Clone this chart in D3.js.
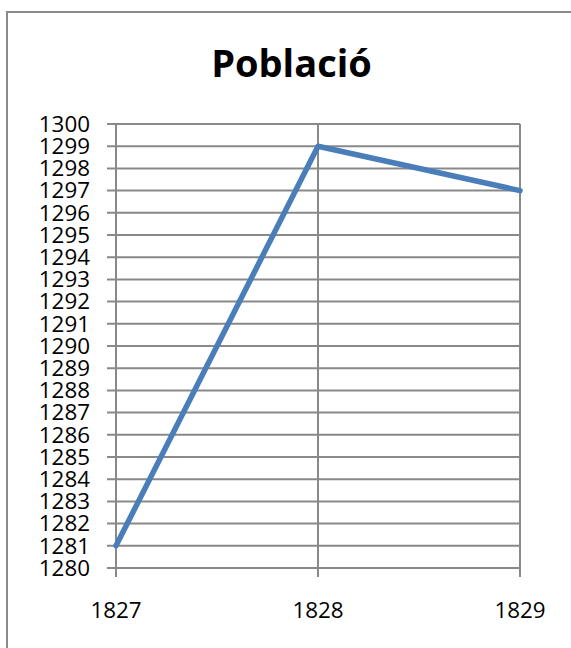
<!DOCTYPE html>
<html><head><meta charset="utf-8">
<script src="https://cdn.jsdelivr.net/npm/d3@7"></script>
<style>body{margin:0;background:#fff}svg{display:block}</style>
</head><body>
<script>
const title = "Població";
const years = ["1827", "1828", "1829"];
const population = [1281, 1299, 1297];
const yTicks = d3.range(1280, 1301, 1);

const W = 571, H = 648;
const svg = d3.select("body").append("svg").attr("width", W).attr("height", H);
const font = "'Open Sans', sans-serif";
const grid = "#898989";

// outer frame (extends beyond right/bottom)
svg.append("rect").attr("x", 7).attr("y", 12).attr("width", 600).attr("height", 700)
  .attr("fill", "none").attr("stroke", grid).attr("stroke-width", 2);

const x = d3.scalePoint().domain(years).range([116, 520]);
const y = d3.scaleLinear().domain([1280, 1300]).range([568, 124]);

// horizontal gridlines
svg.append("g").selectAll("line").data(yTicks).join("line")
  .attr("x1", 107).attr("x2", 520).attr("y1", d => y(d)).attr("y2", d => y(d))
  .attr("stroke", grid).attr("stroke-width", 2);
// vertical gridlines + ticks
svg.append("g").selectAll("line").data(years).join("line")
  .attr("x1", d => x(d)).attr("x2", d => x(d)).attr("y1", 124).attr("y2", 577)
  .attr("stroke", grid).attr("stroke-width", 2);

// y labels
svg.append("g").selectAll("text").data(yTicks).join("text")
  .attr("x", 90).attr("y", d => y(d)).attr("dy", "0.35em")
  .attr("text-anchor", "end").attr("font-family", font).attr("font-size", 22.4)
  .attr("fill", "#000").text(d => d);
// x labels
svg.append("g").selectAll("text").data(years).join("text")
  .attr("x", d => x(d)).attr("y", 618)
  .attr("text-anchor", "middle").attr("font-family", font).attr("font-size", 22.4)
  .attr("fill", "#000").text(d => d);

// line
svg.append("path").datum(years.map((yr, i) => [yr, population[i]]))
  .attr("fill", "none").attr("stroke", "#4A7EBB").attr("stroke-width", 5.5)
  .attr("stroke-linejoin", "round").attr("stroke-linecap", "round")
  .attr("d", d3.line().x(d => x(d[0])).y(d => y(d[1])));

// title
svg.append("text").attr("x", 291.5).attr("y", 77).attr("text-anchor", "middle")
  .attr("font-family", font).attr("font-weight", "bold").attr("font-size", 38)
  .attr("fill", "#000").text(title);
</script>
</body></html>
